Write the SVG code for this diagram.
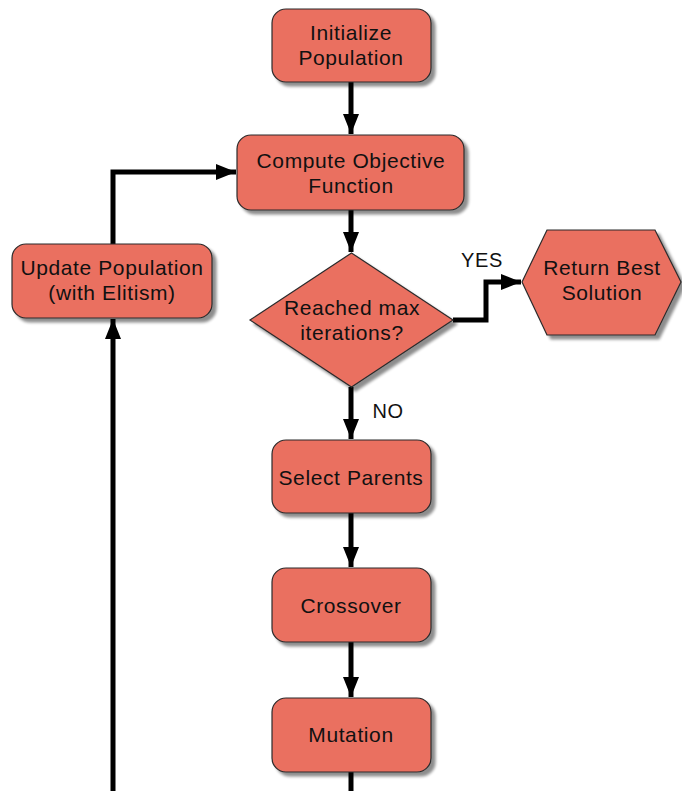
<svg xmlns="http://www.w3.org/2000/svg" width="682" height="791" viewBox="0 0 682 791">
<defs>
<filter id="sh" x="-10%" y="-10%" width="130%" height="130%">
<feGaussianBlur in="SourceAlpha" stdDeviation="1.5"/>
<feOffset dx="4" dy="4" result="o"/>
<feComponentTransfer><feFuncA type="linear" slope="0.45"/></feComponentTransfer>
<feMerge><feMergeNode/><feMergeNode in="SourceGraphic"/></feMerge>
</filter>
<marker id="ah" markerUnits="userSpaceOnUse" markerWidth="22" markerHeight="18" refX="20" refY="8" orient="auto">
<path d="M0,0 L20,8 L0,16 Z" fill="#000"/>
</marker>
</defs>
<style>
.n{fill:#EA6F61;stroke:#2b2b2b;stroke-width:1.2;filter:url(#sh)}
.t{font-family:"Liberation Sans",Arial,sans-serif;font-size:21px;letter-spacing:0.6px;fill:#111;text-anchor:middle}
.c{fill:none;stroke:#000;stroke-width:5}
.a{marker-end:url(#ah)}
</style>
<rect width="682" height="791" fill="#fff"/>
<g id="connectors">
<path class="c a" d="M351,82 V134"/>
<path class="c a" d="M351,210 V252"/>
<path class="c a" d="M453,320 H486 V282 H521"/>
<path class="c a" d="M351,387 V439"/>
<path class="c a" d="M351,513 V567"/>
<path class="c a" d="M351,642 V697"/>
<path class="c" d="M351,772 V791"/>
<path class="c a" d="M113,791 V319"/>
<path class="c a" d="M113,244 V172 H236"/>
<text class="t" x="482" y="267" style="font-size:20px">YES</text>
<text class="t" x="388" y="418" style="font-size:20px">NO</text>
</g>
<g id="init"><rect class="n" x="272" y="9" width="159" height="73" rx="14"/>
<text class="t" x="351" y="40">Initialize</text><text class="t" x="351" y="65">Population</text></g>
<g id="compute"><rect class="n" x="237" y="135" width="227" height="75" rx="14"/>
<text class="t" x="351" y="168">Compute Objective</text><text class="t" x="351" y="193">Function</text></g>
<g id="decision"><path class="n" d="M351.5,253 L453,320 L351.5,387 L250,320 Z"/>
<text class="t" x="352" y="315">Reached max</text><text class="t" x="352" y="340">iterations?</text></g>
<g id="return"><path class="n" d="M522,282 L547,230 L655,230 L681,282 L655,335 L547,335 Z"/>
<text class="t" x="602" y="275">Return Best</text><text class="t" x="602" y="300">Solution</text></g>
<g id="update"><rect class="n" x="12" y="244" width="200" height="74" rx="14"/>
<text class="t" x="112" y="275">Update Population</text><text class="t" x="112" y="300">(with Elitism)</text></g>
<g id="select"><rect class="n" x="272" y="440" width="159" height="73" rx="14"/>
<text class="t" x="351" y="485">Select Parents</text></g>
<g id="crossover"><rect class="n" x="272" y="568" width="159" height="74" rx="14"/>
<text class="t" x="351" y="613">Crossover</text></g>
<g id="mutation"><rect class="n" x="272" y="698" width="159" height="74" rx="14"/>
<text class="t" x="351" y="742">Mutation</text></g>
</svg>
